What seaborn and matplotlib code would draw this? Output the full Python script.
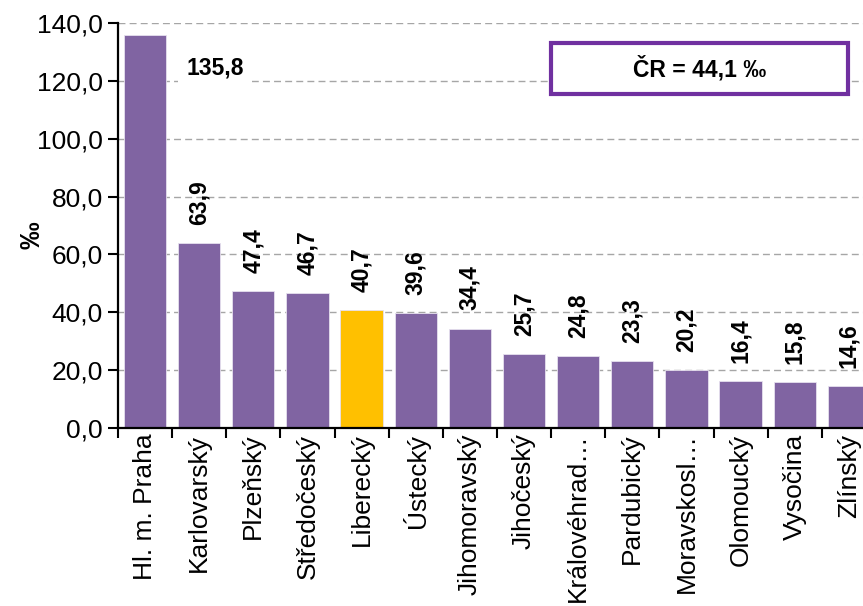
import matplotlib
matplotlib.use("Agg")
import matplotlib.pyplot as plt
from matplotlib.patches import Rectangle
import seaborn as sns
import pandas as pd

regions = ["Hl. m. Praha", "Karlovarský", "Plzeňský", "Středočeský", "Liberecký",
           "Ústecký", "Jihomoravský", "Jihočeský", "Královéhrad…", "Pardubický",
           "Moravskosl…", "Olomoucký", "Vysočina", "Zlínský"]
values = [135.8, 63.9, 47.4, 46.7, 40.7, 39.6, 34.4, 25.7, 24.8, 23.3, 20.2, 16.4, 15.8, 14.6]
highlight = "Liberecký"
cr_total = 44.1
y_ticks = [0, 20, 40, 60, 80, 100, 120, 140]

PURPLE = "#8064A2"
GOLD = "#FFC000"

sns.set_theme(style="white", rc={"text.color": "black", "axes.labelcolor": "black",
                                 "xtick.color": "black", "ytick.color": "black"})
plt.rcParams["font.family"] = ["Liberation Sans", "DejaVu Sans"]

df = pd.DataFrame({"kraj": regions, "hodnota": values})
palette = {r: (GOLD if r == highlight else PURPLE) for r in regions}

fig = plt.figure(figsize=(8.63, 6.06), dpi=100)
ax = fig.add_axes([0.1367, 0.2937, 0.8783, 0.6683])

sns.barplot(data=df, x="kraj", y="hodnota", hue="kraj", palette=palette,
            legend=False, width=0.78, saturation=1, ax=ax, zorder=3,
            edgecolor="#E6E0EE", linewidth=0.6)

ax.set_xlim(-0.5, len(regions) - 0.5)
ax.set_ylim(0, 140)
ax.set_yticks(y_ticks)
ax.set_yticklabels([f"{v:.1f}".replace(".", ",") for v in y_ticks], fontsize=19)

# tick marks at the category boundaries, labels at the bar centres
ax.set_xticks([i - 0.5 for i in range(len(regions) + 1)])
ax.set_xticklabels([])
ax.set_xticks(range(len(regions)), minor=True)
ax.set_xticklabels(regions, minor=True, rotation=90, fontsize=19)
ax.tick_params(axis="x", which="major", direction="out", length=7, width=1.5,
               color="black", bottom=True)
ax.tick_params(axis="x", which="minor", length=0, pad=4)
ax.tick_params(axis="y", direction="out", length=7, width=1.5, color="black",
               left=True, pad=4)

ax.set_xlabel("")
ax.set_ylabel("‰", fontsize=20, fontweight="bold")
ax.yaxis.set_label_coords(-0.096, 0.475)

for side in ("top", "right"):
    ax.spines[side].set_visible(False)
for side in ("left", "bottom"):
    ax.spines[side].set_color("black")
    ax.spines[side].set_linewidth(1.6)
    ax.spines[side].set_zorder(4)

ax.yaxis.grid(True, linestyle=(0, (5, 3)), color="#A6A6A6", linewidth=1.0, zorder=0)
ax.set_axisbelow(True)

# value labels
for i, v in enumerate(values):
    txt = f"{v:.1f}".replace(".", ",")
    if i == 0:
        ax.text(1.3, 124.5, txt, ha="center", va="center", fontsize=16.5,
                fontweight="bold", zorder=5,
                bbox=dict(facecolor="white", edgecolor="none", pad=6))
    else:
        ax.annotate(txt, (i, v), xytext=(0, 13), textcoords="offset points",
                    rotation=90, ha="center", va="bottom", fontsize=16.5,
                    fontweight="bold", zorder=5)

# national total box
box = Rectangle((0.571, 0.825), 0.392, 0.126, transform=ax.transAxes,
                facecolor="white", edgecolor="#7030A0", linewidth=3, zorder=6,
                clip_on=False)
ax.add_patch(box)
cr_text = "ČR = " + f"{cr_total:.1f}".replace(".", ",") + " ‰"
ax.text(0.767, 0.888, cr_text, transform=ax.transAxes, ha="center", va="center",
        fontsize=16.5, fontweight="bold", zorder=7)

fig.savefig("out.png", dpi=100)
